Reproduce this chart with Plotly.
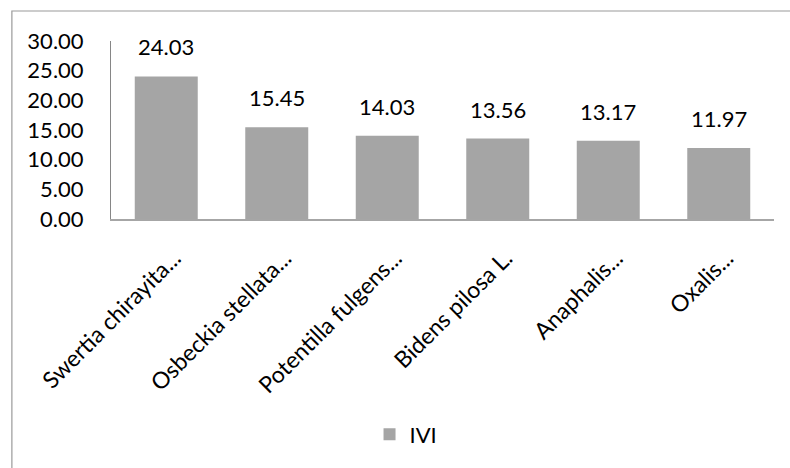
import plotly.graph_objects as go

categories = ["Swertia chirayita...", "Osbeckia stellata...", "Potentilla fulgens...",
              "Bidens pilosa L.", "Anaphalis...", "Oxalis..."]
ivi = [24.03, 15.45, 14.03, 13.56, 13.17, 11.97]
y_ticks = [0, 5, 10, 15, 20, 25, 30]

FONT = "Lato"
fig = go.Figure()
fig.add_trace(go.Bar(
    x=categories, y=ivi, name="IVI",
    marker=dict(color="#A5A5A5", line=dict(width=0)),
    width=0.57,
    cliponaxis=False,
))
for c, v in zip(categories, ivi):
    fig.add_annotation(x=c, y=v, text=f"{v:.2f}", showarrow=False,
                       yanchor="bottom", yshift=14,
                       font=dict(family=FONT, size=22, color="#000000"))
fig.update_layout(
    width=790, height=468,
    margin=dict(l=111, r=16, t=41, b=249),
    paper_bgcolor="white", plot_bgcolor="white",
    font=dict(family=FONT, color="#000000"),
    showlegend=True,
    legend=dict(orientation="h", x=0.445, xanchor="center", y=-1.211, yanchor="middle",
                font=dict(family=FONT, size=22), itemwidth=30),
)
fig.update_yaxes(
    range=[0, 30], tickvals=y_ticks, tickformat=".2f",
    showgrid=False, zeroline=False,
    showline=True, linecolor="#868686", linewidth=1,
    ticks="", ticklabelstandoff=22,
    tickfont=dict(family=FONT, size=22),
)
fig.update_xaxes(
    showline=True, linecolor="#A6A6A6", linewidth=1.5,
    ticks="", tickangle=-45, ticklabelshift=8, ticklabelstandoff=15,
    tickfont=dict(family=FONT, size=23),
)
fig.add_shape(type="rect", xref="paper", yref="paper",
              x0=-0.1495, x1=1.2, y0=-1.5, y1=1.1685,
              line=dict(color="#9a9a9a", width=1.2), fillcolor="rgba(0,0,0,0)", layer="below")
fig.write_html("out.html")
